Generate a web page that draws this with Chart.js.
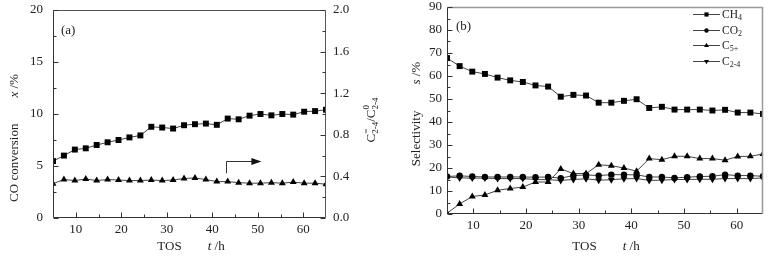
<!DOCTYPE html>
<html>
<head>
<meta charset="utf-8">
<script src="https://cdn.jsdelivr.net/npm/chart.js@4.4.0/dist/chart.umd.min.js"></script>
<style>
html, body { margin: 0; padding: 0; background: #fff; }
#wrap { position: relative; width: 775px; height: 260px; }
#ca { position: absolute; left: 0; top: 0; }
#cb { position: absolute; left: 388px; top: 0; }
</style>
</head>
<body>
<div id="wrap">
  <canvas id="ca" width="388" height="260"></canvas>
  <canvas id="cb" width="387" height="260"></canvas>
</div>
<script>
// time on stream, h
const tos = [5, 7.4, 9.8, 12.2, 14.6, 17, 19.4, 21.8, 24.2, 26.6, 29, 31.4, 33.8,
             36.2, 38.6, 41, 43.4, 45.8, 48.2, 50.6, 53, 55.4, 57.8, 60.2, 62.6, 65];

// (a) CO conversion, % and olefin ratio (right axis)
const coConv = [5.47, 6.0, 6.58, 6.7, 7.02, 7.28, 7.5, 7.75, 7.94, 8.77, 8.7, 8.6, 8.92,
                9.02, 9.08, 8.96, 9.56, 9.49, 9.84, 10.0, 9.87, 10.0, 9.94, 10.22, 10.28, 10.41];
const olefinRatio = [0.33, 0.37, 0.36, 0.375, 0.36, 0.37, 0.365, 0.36, 0.36, 0.365, 0.36, 0.365, 0.38,
                     0.385, 0.37, 0.35, 0.35, 0.34, 0.335, 0.335, 0.34, 0.335, 0.345, 0.335, 0.335, 0.325];

// (b) selectivity, %
const selCH4 = [67.8, 64.3, 61.9, 60.9, 59.3, 58.1, 57.4, 55.9, 55.4, 51.0, 51.8, 51.5, 48.4,
                48.4, 49.2, 49.9, 46.1, 46.6, 45.4, 45.4, 45.4, 45.0, 45.3, 44.1, 44.1, 43.5];
const selCO2 = [16.3, 16.6, 16.3, 16.1, 16.1, 16.1, 16.1, 16.0, 16.1, 15.6, 16.7, 17.0, 16.7,
                17.1, 17.1, 17.0, 16.1, 16.1, 15.7, 16.0, 16.3, 16.4, 17.1, 16.7, 16.7, 16.4];
const selC5 = [0.3, 4.4, 7.6, 8.3, 10.3, 11.1, 11.7, 13.9, 13.9, 19.6, 17.6, 17.6, 21.4,
               21.0, 20.0, 18.6, 24.1, 23.6, 25.1, 25.1, 24.1, 24.1, 23.4, 25.0, 25.1, 26.1];
const selC24 = [16.1, 15.7, 15.6, 15.6, 15.4, 15.4, 15.4, 15.0, 14.9, 14.6, 15.0, 15.3, 14.7,
                14.9, 15.3, 15.4, 14.6, 14.7, 15.0, 15.0, 15.1, 15.1, 15.4, 15.4, 15.4, 15.7];

// ticks
const xTicks = [10, 20, 30, 40, 50, 60];
const xMinor = [15, 25, 35, 45, 55];
const convTicks = [0, 5, 10, 15, 20];
const convMinor = [2.5, 7.5, 12.5, 17.5];
const ratioTicks = [0, 0.4, 0.8, 1.2, 1.6, 2.0];
const ratioMinor = [0.2, 0.6, 1.0, 1.4, 1.8];
const selTicks = [0, 10, 20, 30, 40, 50, 60, 70, 80, 90];
const selMinor = [5, 15, 25, 35, 45, 55, 65, 75, 85];

const FONT = "'Liberation Serif', 'Times New Roman', serif";
Chart.defaults.font.family = FONT;
Chart.defaults.font.size = 13;
Chart.defaults.color = '#222';

function pts(ys) { return tos.map((x, i) => ({ x: x, y: ys[i] })); }

// text with italic / subscript / superscript pieces
function richWidth(ctx, segs, size) {
  let w = 0;
  segs.forEach(s => {
    if (s.t !== undefined) {
      ctx.font = (s.i ? 'italic ' : '') + size + 'px ' + FONT;
      w += ctx.measureText(s.t).width;
    } else {
      ctx.font = Math.round(size * 0.7) + 'px ' + FONT;
      w += Math.max(ctx.measureText(s.sub || '').width, ctx.measureText(s.sup || '').width);
    }
  });
  return w;
}
function drawRich(ctx, segs, x, y, size, rot, align) {
  ctx.save();
  ctx.translate(x, y);
  if (rot) ctx.rotate(rot);
  ctx.fillStyle = '#222';
  ctx.textBaseline = 'middle';
  ctx.textAlign = 'left';
  const w = richWidth(ctx, segs, size);
  let cx = align === 'left' ? 0 : -w / 2;
  segs.forEach(s => {
    if (s.t !== undefined) {
      ctx.font = (s.i ? 'italic ' : '') + size + 'px ' + FONT;
      ctx.fillText(s.t, cx, 0);
      cx += ctx.measureText(s.t).width;
    } else {
      ctx.font = Math.round(size * 0.7) + 'px ' + FONT;
      if (s.sub) ctx.fillText(s.sub, cx, size * 0.3);
      if (s.sup) ctx.fillText(s.sup, cx, -size * 0.42);
      cx += Math.max(ctx.measureText(s.sub || '').width, ctx.measureText(s.sup || '').width);
    }
  });
  ctx.restore();
}

// frame, inward tick marks, titles, arrow, legend
const decor = {
  id: 'decor',
  afterDraw(chart, args, o) {
    const ctx = chart.ctx, a = chart.chartArea;
    const L = Math.round(a.left) + 0.5, R = Math.round(a.right) - 0.5;
    const T = Math.round(a.top) + 0.5, B = Math.round(a.bottom) - 0.5;
    ctx.save();
    ctx.lineWidth = 1;
    ctx.strokeStyle = '#333';
    ctx.beginPath();
    ctx.moveTo(L, T); ctx.lineTo(L, B); ctx.lineTo(R, B);
    ctx.stroke();
    ctx.strokeStyle = o.edgeColor;
    ctx.lineWidth = o.edgeWidth;
    ctx.beginPath();
    ctx.moveTo(L, T); ctx.lineTo(R, T); ctx.lineTo(R, B);
    ctx.stroke();

    ctx.strokeStyle = '#333';
    ctx.lineWidth = 1;
    const xs = chart.scales.x;
    ctx.beginPath();
    o.xMajor.forEach(v => { const p = Math.round(xs.getPixelForValue(v)) + 0.5; ctx.moveTo(p, B); ctx.lineTo(p, B - 5); });
    o.xMinor.forEach(v => { const p = Math.round(xs.getPixelForValue(v)) + 0.5; ctx.moveTo(p, B); ctx.lineTo(p, B - 3); });
    const ys = chart.scales.y;
    o.yMajor.forEach(v => { const p = Math.round(ys.getPixelForValue(v)) + 0.5; ctx.moveTo(L, p); ctx.lineTo(L + 5, p); });
    o.yMinor.forEach(v => { const p = Math.round(ys.getPixelForValue(v)) + 0.5; ctx.moveTo(L, p); ctx.lineTo(L + 3, p); });
    if (chart.scales.y1) {
      const y1 = chart.scales.y1;
      o.y1Major.forEach(v => { const p = Math.round(y1.getPixelForValue(v)) + 0.5; ctx.moveTo(R, p); ctx.lineTo(R - 5, p); });
      o.y1Minor.forEach(v => { const p = Math.round(y1.getPixelForValue(v)) + 0.5; ctx.moveTo(R, p); ctx.lineTo(R - 3, p); });
    }
    ctx.stroke();

    // panel tag
    ctx.fillStyle = '#222';
    ctx.font = '13px ' + FONT;
    ctx.textBaseline = 'middle';
    ctx.fillText(o.tag, a.left + o.tagDx, a.top + o.tagDy);

    // axis titles
    o.titles.forEach(t => drawRich(ctx, t.segs, t.x, t.y, 13, t.rot || 0));

    // arrow pointing to right axis
    if (o.arrow) {
      const ar = o.arrow;
      const x0 = Math.round(xs.getPixelForValue(ar.x0)) + 0.5;
      const x1 = xs.getPixelForValue(ar.x1);
      const yb = ys.getPixelForValue(ar.y0), yt = Math.round(ys.getPixelForValue(ar.y1)) + 0.5;
      ctx.beginPath();
      ctx.moveTo(x0, yb); ctx.lineTo(x0, yt); ctx.lineTo(x1 - 8, yt);
      ctx.stroke();
      ctx.fillStyle = '#111';
      ctx.beginPath();
      ctx.moveTo(x1, yt); ctx.lineTo(x1 - 10, yt - 3.5); ctx.lineTo(x1 - 10, yt + 3.5);
      ctx.closePath();
      ctx.fill();
    }

    // legend inside plot
    if (o.legend) {
      const lg = o.legend;
      chart.data.datasets.forEach((ds, i) => {
        const y = Math.round(a.top + lg.top + i * lg.gap) + 0.5;
        const x0 = a.right - lg.fromRight;
        ctx.strokeStyle = ds.borderColor;
        ctx.lineWidth = 1;
        ctx.beginPath();
        ctx.moveTo(x0, y); ctx.lineTo(x0 + lg.len, y);
        ctx.stroke();
        ctx.fillStyle = ds.pointBackgroundColor;
        ctx.strokeStyle = ds.pointBackgroundColor;
        Chart.helpers.drawPoint(ctx, { pointStyle: ds.pointStyle, rotation: ds.pointRotation || 0,
          radius: ds.pointRadius * lg.markerScale, borderWidth: 0 }, x0 + lg.len / 2, y);
        drawRich(ctx, lg.labels[i], x0 + lg.len + 2, y, lg.size, 0, 'left');
      });
    }
    ctx.restore();
  }
};

function lineSet(label, ys, style, r, rot, yAxisID) {
  return {
    label: label, data: pts(ys), yAxisID: yAxisID || 'y',
    borderColor: '#444', borderWidth: 1, tension: 0,
    pointStyle: style, pointRadius: r, pointRotation: rot || 0,
    pointBackgroundColor: '#000', pointBorderColor: '#000', pointBorderWidth: 0
  };
}

const noGrid = { display: false, drawTicks: false, tickLength: 0 };

function xScale(h) {
  return {
    type: 'linear', min: 5, max: 65,
    afterBuildTicks: s => { s.ticks = xTicks.map(v => ({ value: v })); },
    afterFit: s => { s.height = h; s.paddingLeft = 0; s.paddingRight = 0; },
    ticks: { padding: 4, color: '#222', font: { size: 13 } },
    grid: noGrid, border: { display: false }
  };
}

function yFit(w) {
  return s => { s.width = w; s.paddingTop = 0; s.paddingBottom = 0; };
}

new Chart(document.getElementById('ca'), {
  type: 'line',
  data: {
    datasets: [
      lineSet('CO conversion', coConv, 'rect', 4.2),
      lineSet('ratio', olefinRatio, 'triangle', 4, 0, 'y1')
    ]
  },
  options: {
    responsive: false, animation: false,
    layout: { padding: { top: 10, left: 0, right: 0, bottom: 0 } },
    plugins: {
      legend: { display: false }, tooltip: { enabled: false },
      decor: {
        edgeColor: '#555', edgeWidth: 1,
        xMajor: xTicks, xMinor: xMinor, yMajor: convTicks, yMinor: convMinor,
        y1Major: ratioTicks, y1Minor: ratioMinor,
        tag: '(a)', tagDx: 8, tagDy: 21,
        arrow: { x0: 43, y0: 4.3, y1: 5.5, x1: 50.8 },
        titles: [
          { segs: [{ t: 'CO conversion' }, { t: '        ' }, { t: 'x', i: true }, { t: ' /%' }], x: 15, y: 138, rot: -Math.PI / 2 },
          { segs: [{ t: 'TOS' }, { t: '        ' }, { t: 't', i: true }, { t: ' /h' }], x: 191, y: 247 },
          { segs: [{ t: 'C' }, { sub: '2-4', sup: '=' }, { t: '/C' }, { sub: '2-4', sup: '0' }], x: 372, y: 120, rot: -Math.PI / 2 }
        ]
      }
    },
    scales: {
      x: xScale(42),
      y: {
        type: 'linear', min: 0, max: 20, position: 'left',
        afterBuildTicks: s => { s.ticks = convTicks.map(v => ({ value: v })); },
        afterFit: yFit(53),
        ticks: { padding: 10, color: '#222' },
        grid: noGrid, border: { display: false }
      },
      y1: {
        type: 'linear', min: 0, max: 2, position: 'right',
        afterBuildTicks: s => { s.ticks = ratioTicks.map(v => ({ value: v })); },
        afterFit: yFit(62),
        ticks: { padding: 7, color: '#222', callback: v => v.toFixed(1) },
        grid: noGrid, border: { display: false }
      }
    }
  },
  plugins: [decor]
});

new Chart(document.getElementById('cb'), {
  type: 'line',
  data: {
    datasets: [
      lineSet('CH4', selCH4, 'rect', 4.2),
      lineSet('CO2', selCO2, 'circle', 3.2),
      lineSet('C5+', selC5, 'triangle', 4),
      lineSet('C2-4', selC24, 'triangle', 4, 180)
    ]
  },
  options: {
    responsive: false, animation: false,
    layout: { padding: { top: 7, left: 0, right: 12, bottom: 0 } },
    plugins: {
      legend: { display: false }, tooltip: { enabled: false },
      decor: {
        edgeColor: '#999', edgeWidth: 1.5,
        xMajor: xTicks, xMinor: xMinor, yMajor: selTicks, yMinor: selMinor,
        tag: '(b)', tagDx: 9, tagDy: 20,
        legend: {
          top: 7, gap: 15.7, fromRight: 70, len: 27, size: 11.5, markerScale: 0.7,
          labels: [
            [{ t: 'CH' }, { sub: '4' }],
            [{ t: 'CO' }, { sub: '2' }],
            [{ t: 'C' }, { sub: '5+' }],
            [{ t: 'C' }, { sub: '2-4' }]
          ]
        },
        titles: [
          { segs: [{ t: 'Selectivity' }, { t: '        ' }, { t: 's', i: true }, { t: ' /%' }], x: 29, y: 114, rot: -Math.PI / 2 },
          { segs: [{ t: 'TOS' }, { t: '        ' }, { t: 't', i: true }, { t: ' /h' }], x: 218, y: 247 }
        ]
      }
    },
    scales: {
      x: xScale(46),
      y: {
        type: 'linear', min: 0, max: 90, position: 'left',
        afterBuildTicks: s => { s.ticks = selTicks.map(v => ({ value: v })); },
        afterFit: yFit(59),
        ticks: { padding: 5, color: '#222' },
        grid: noGrid, border: { display: false }
      }
    }
  },
  plugins: [decor]
});
</script>
</body>
</html>
